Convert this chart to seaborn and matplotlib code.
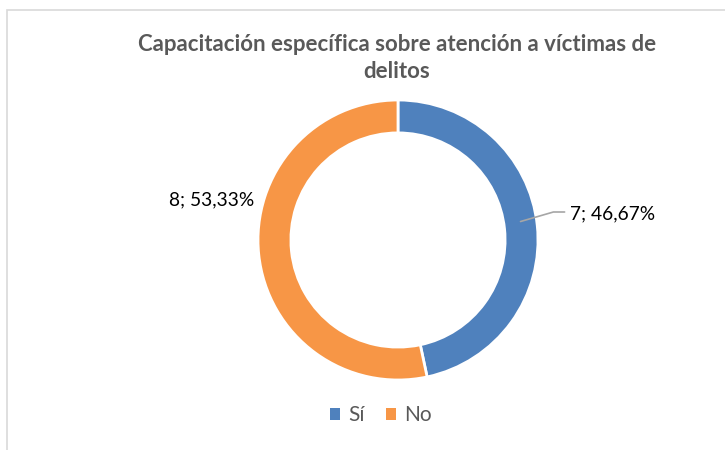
import numpy as np
import matplotlib
matplotlib.use("Agg")
import matplotlib.pyplot as plt
import seaborn as sns
from matplotlib.patches import Rectangle, Patch

categories = ["Sí", "No"]
counts = [7, 8]
colors = ["#4F81BD", "#F79646"]
title = "Capacitación específica sobre atención a víctimas de\ndelitos"

sns.set_theme(style="white")
plt.rcParams["font.family"] = ["Lato", "DejaVu Sans"]

fig = plt.figure(figsize=(7.25, 4.5), dpi=100)
fig.patch.set_facecolor("white")

# chart frame (cropped on the right and bottom like the source)
fig.add_artist(Rectangle((7 / 725, -0.1), 1.0, 1 - 10 / 450 + 0.1,
                         transform=fig.transFigure, fill=False,
                         edgecolor="#D9D9D9", linewidth=1.2))

ax = fig.add_axes([(398 - 140) / 725, (450 - 380) / 450, 280 / 725, 280 / 450])
wedges, _ = ax.pie(counts, colors=colors, startangle=90, counterclock=False,
                   radius=1.0,
                   wedgeprops=dict(width=0.235, edgecolor="white", linewidth=2))
ax.set_xlim(-1, 1)
ax.set_ylim(-1, 1)
ax.set_aspect("equal")
ax.axis("off")

total = sum(counts)
labels = [f"{c}; {c / total * 100:.2f}%".replace(".", ",") for c in counts]

# Sí label with leader line
w = wedges[0]
mid = np.deg2rad((w.theta1 + w.theta2) / 2)
x0, y0 = 0.88 * np.cos(mid), 0.88 * np.sin(mid) + 0.04
ax.plot([x0, 1.11, 1.19], [y0, 0.2, 0.2], color="#A6A6A6", lw=1.2,
        clip_on=False)
ax.text(1.23, 0.19, labels[0], ha="left", va="center", fontsize=13.8,
        color="#000000")
# No label
ax.text(-1.03, 0.285, labels[1], ha="right", va="center", fontsize=13.8,
        color="#000000")

fig.text(397 / 725, 1 - 58 / 450, title, ha="center", va="center",
         fontsize=16, fontweight="bold", color="#595959", linespacing=1.3)

handles = [Patch(facecolor=c, edgecolor="none") for c in colors]
fig.legend(handles, categories, loc="center", bbox_to_anchor=(381 / 725, 1 - 415 / 450),
           ncol=2, frameon=False, fontsize=15, handlelength=0.5,
           handleheight=0.5, handletextpad=0.4, columnspacing=1.0,
           labelcolor="#595959")

fig.savefig("out.png", dpi=100)
